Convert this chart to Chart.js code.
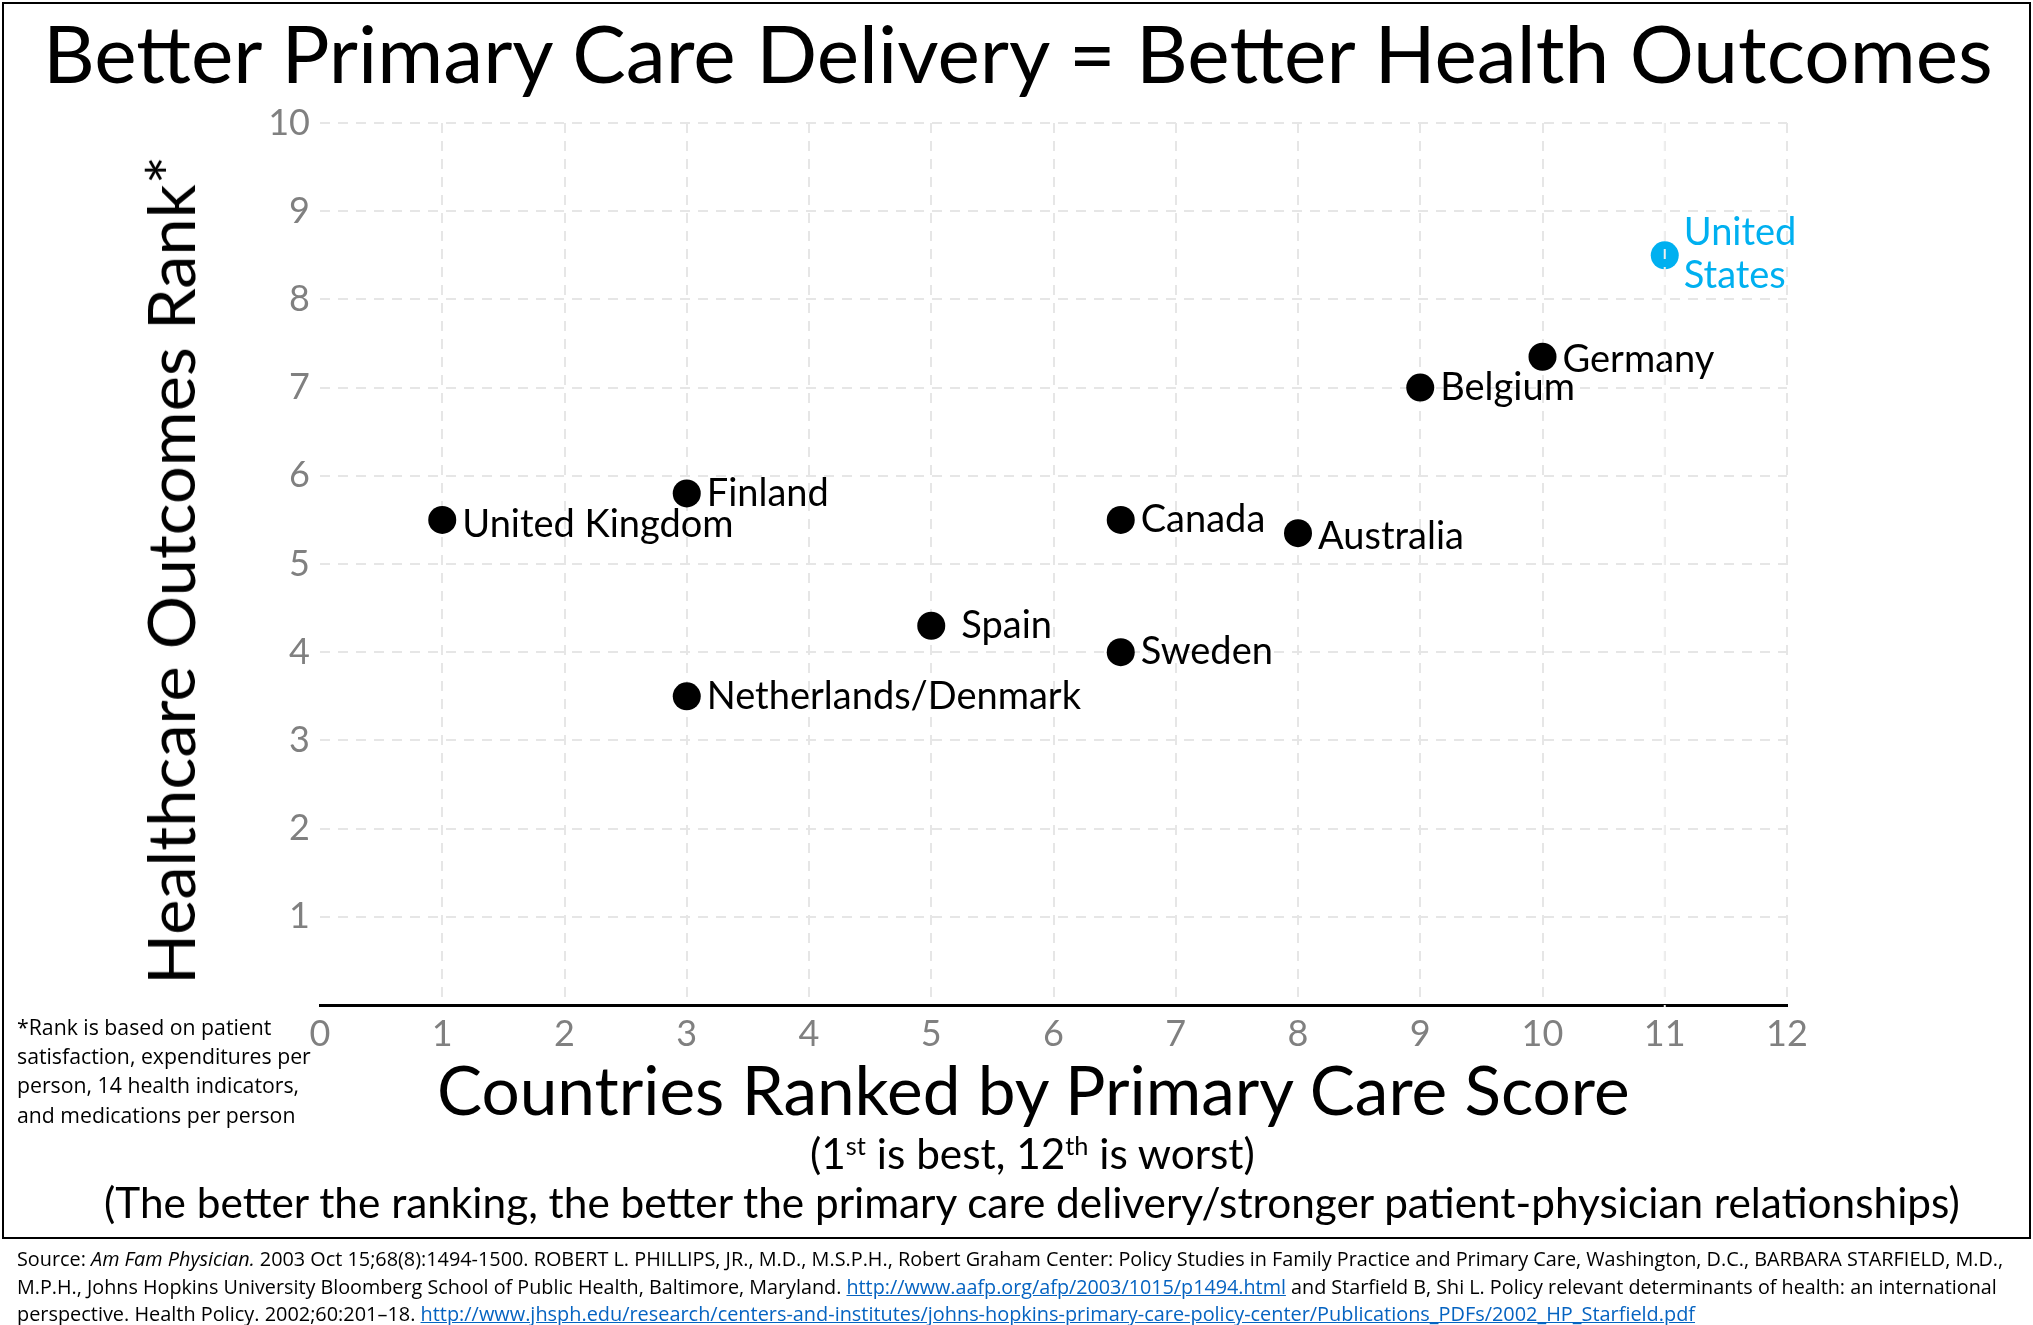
<!DOCTYPE html>
<html><head><meta charset="utf-8">
<script src="https://cdn.jsdelivr.net/npm/chart.js@4/dist/chart.umd.min.js"></script>
<style>
html,body{margin:0;padding:0;background:#fff;width:2033px;height:1325px;overflow:hidden;}
#frame{position:absolute;left:2px;top:2px;width:2025px;height:1233px;border:2px solid #000;}
#c{position:absolute;left:0;top:0;}
.t{position:absolute;white-space:nowrap;font-family:Lato,"Open Sans",sans-serif;color:#000;line-height:1;}
.src{font-family:"Open Sans",Lato,sans-serif;}
.src a{color:#0563C1;text-decoration:underline;}
sup{font-size:0.6em;vertical-align:0.55em;line-height:0;}
</style></head>
<body>
<div id="frame"></div>
<canvas id="c" width="2033" height="1325"></canvas>
<div class="t" id="title">Better Primary Care Delivery = Better Health Outcomes</div>
<div class="t" id="ytitle">Healthcare Outcomes Rank*</div>
<div class="t" id="xtitle">Countries Ranked by Primary Care Score</div>
<div class="t" id="sub1">(1<sup>st</sup> is best, 12<sup>th</sup> is worst)</div>
<div class="t" id="sub2">(The better the ranking, the better the primary care delivery/stronger patient-physician relationships)</div>
<div class="t src" id="fn1">*Rank is based on patient</div>
<div class="t src" id="fn2">satisfaction, expenditures per</div>
<div class="t src" id="fn3">person, 14 health indicators,</div>
<div class="t src" id="fn4">and medications per person</div>
<div class="t src" id="s1">Source: <i>Am Fam Physician.</i> 2003 Oct 15;68(8):1494-1500. ROBERT L. PHILLIPS, JR., M.D., M.S.P.H., Robert Graham Center: Policy Studies in Family Practice and Primary Care, Washington, D.C., BARBARA STARFIELD, M.D.,</div>
<div class="t src" id="s2">M.P.H., Johns Hopkins University Bloomberg School of Public Health, Baltimore, Maryland. <a>http://www.aafp.org/afp/2003/1015/p1494.html</a> and Starfield B, Shi L. Policy relevant determinants of health: an international</div>
<div class="t src" id="s3">perspective. Health Policy. 2002;60:201–18. <a>http://www.jhsph.edu/research/centers-and-institutes/johns-hopkins-primary-care-policy-center/Publications_PDFs/2002_HP_Starfield.pdf</a></div>
<script>
// ---- data ----
const countries = ['United Kingdom','Finland','Netherlands/Denmark','Spain','Canada','Sweden','Australia','Belgium','Germany','United States'];
const primaryCareRank = [1, 3, 3, 5, 6.55, 6.55, 8, 9, 10, 11];
const outcomesRank = [5.5, 5.8, 3.5, 4.3, 5.5, 4.0, 5.35, 7.0, 7.35, 8.5];
const xTickValues = [0,1,2,3,4,5,6,7,8,9,10,11,12];
const yTickValues = [1,2,3,4,5,6,7,8,9,10];
const highlighted = 'United States';

// ---- label styling (offsets in px from the point) ----
const labelDx = {'Spain': 30};
const labelDy = {'United Kingdom': 5, 'Australia': 4, 'Germany': 3};
const defaultDx = 20;
const highlightColor = '#00B0F0';

const points = countries.map((c, i) => ({x: primaryCareRank[i], y: outcomesRank[i], name: c}));

const labelPlugin = {
  id: 'pointLabels',
  afterDatasetsDraw(chart) {
    const ctx = chart.ctx;
    const meta = chart.getDatasetMeta(0);
    ctx.save();
    ctx.font = '38px Lato, sans-serif';
    ctx.textBaseline = 'middle';
    ctx.textAlign = 'left';
    meta.data.forEach((el, i) => {
      const name = countries[i];
      const dx = labelDx[name] ?? defaultDx;
      const dy = labelDy[name] ?? 0;
      if (name === highlighted) {
        ctx.fillStyle = highlightColor;
        const parts = name.split(' ');
        ctx.fillText(parts[0], el.x + 19, el.y - 23);
        ctx.fillText(parts[1], el.x + 19, el.y + 20);
      } else {
        ctx.fillStyle = '#000';
        ctx.fillText(name, el.x + dx, el.y + dy);
      }
    });
    // the gridline at the highlighted column is drawn over the marks in the original
    const hi = countries.indexOf(highlighted);
    const xs = chart.scales.x;
    const px = xs.getPixelForValue(primaryCareRank[hi]);
    ctx.strokeStyle = '#eeeeee';
    ctx.lineWidth = 2;
    ctx.setLineDash([10, 8]);
    ctx.beginPath();
    ctx.moveTo(px, chart.chartArea.top);
    ctx.lineTo(px, chart.chartArea.bottom + 2);
    ctx.stroke();
    ctx.restore();
  }
};

const gridColor = '#e6e6e6';
new Chart(document.getElementById('c'), {
  type: 'scatter',
  data: {
    datasets: [{
      data: points,
      pointRadius: 14,
      pointHoverRadius: 14,
      pointBackgroundColor: countries.map(c => c === highlighted ? highlightColor : '#000'),
      pointBorderWidth: 0,
      borderWidth: 0
    }]
  },
  options: {
    responsive: false,
    devicePixelRatio: 1,
    animation: false,
    layout: {padding: {top: 123, right: 246, left: 0, bottom: 0}},
    plugins: {legend: {display: false}, tooltip: {enabled: false}, title: {display: false}},
    scales: {
      x: {
        type: 'linear', min: 0, max: 12,
        afterBuildTicks: s => { s.ticks = xTickValues.map(v => ({value: v})); },
        afterFit: s => { s.height = 320; },
        ticks: {color: '#808080', font: {family: 'Lato', size: 36}, padding: 8},
        grid: {color: c => (c.tick && c.tick.value === 0) ? 'rgba(0,0,0,0)' : gridColor, lineWidth: 2, drawTicks: false},
        border: {display: true, color: '#000', width: 3, dash: [10, 8]}
      },
      y: {
        type: 'linear', min: 0, max: 10,
        afterBuildTicks: s => { s.ticks = [0].concat(yTickValues).map(v => ({value: v})); },
        afterFit: s => { s.width = 320; },
        ticks: {color: '#808080', font: {family: 'Lato', size: 36}, padding: 10,
                callback: v => v === 0 ? '' : String(v)},
        grid: {color: c => (c.tick && c.tick.value === 0) ? 'rgba(0,0,0,0)' : gridColor, lineWidth: 2, drawTicks: false},
        border: {display: false, dash: [10, 8]}
      }
    }
  },
  plugins: [labelPlugin]
});

// ---- text layout ----
function fit(id, targetW, base) {
  const el = document.getElementById(id);
  el.style.fontSize = base + 'px';
  const w = el.getBoundingClientRect().width;
  const fs = base * targetW / w;
  el.style.fontSize = fs + 'px';
  return fs;
}
function place(id, left, cy) {
  const el = document.getElementById(id);
  const r = el.getBoundingClientRect();
  el.style.left = left + 'px';
  el.style.top = (cy - r.height / 2) + 'px';
}
fit('title', 1950, 72); place('title', 43, 52);
fit('xtitle', 1193, 66); place('xtitle', 437, 1089);
fit('sub1', 445, 38); place('sub1', 810, 1153);
fit('sub2', 1856, 38); place('sub2', 104, 1202);
// rotated y title
(function(){
  const el = document.getElementById('ytitle');
  fit('ytitle', 829, 62);
  const r = el.getBoundingClientRect();
  el.style.left = (169 - r.width / 2) + 'px';
  el.style.top = (570 - r.height / 2) + 'px';
  el.style.transform = 'rotate(-90deg)';
  el.style.transformOrigin = '50% 50%';
})();
// footnote
(function(){
  const fs = fit('fn2', 294, 22);
  ['fn1','fn3','fn4'].forEach(id => document.getElementById(id).style.fontSize = fs + 'px');
  place('fn1', 17, 1027); place('fn2', 17, 1056); place('fn3', 17, 1085); place('fn4', 17, 1115);
})();
fit('s1', 1988, 18); place('s1', 17, 1259);
fit('s2', 1981, 18); place('s2', 17, 1287);
fit('s3', 1679, 18); place('s3', 17, 1314);
</script>
</body></html>
